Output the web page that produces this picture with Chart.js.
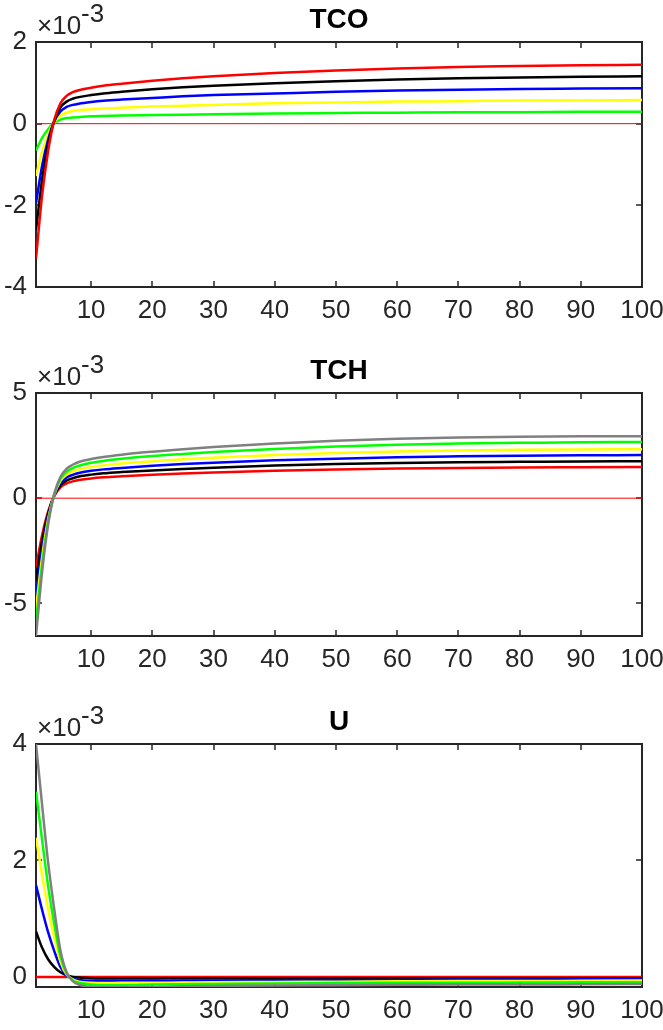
<!DOCTYPE html>
<html>
<head>
<meta charset="utf-8">
<script src="https://cdn.jsdelivr.net/npm/chart.js@4/dist/chart.umd.min.js"></script>
<style>
  body { margin: 0; background: #fff; width: 663px; height: 1030px; overflow: hidden; position: relative; }
  canvas { position: absolute; left: 0; }
</style>
</head>
<body>
<canvas id="c1" width="663" height="340" style="top:0px"></canvas>
<canvas id="c2" width="663" height="340" style="top:351px"></canvas>
<canvas id="c3" width="663" height="328" style="top:702px"></canvas>
<script>
// horizon (quarters) and axis ticks; all values in units of 1e-3
const steps = [1, 2, 3, 4, 5, 6, 7, 8, 10, 12, 15, 20, 25, 30, 40, 50, 60, 70, 80, 90, 100];
const xTicks = [10, 20, 30, 40, 50, 60, 70, 80, 90, 100];
const zeroX = [1, 100];
const zeroY = [0, 0];

// TCO
const tcoRed    = [-3.3, -1.75, -0.65, 0.1, 0.5, 0.68, 0.77, 0.82, 0.88, 0.93, 0.98, 1.05, 1.11, 1.16, 1.24, 1.3, 1.35, 1.39, 1.41, 1.43, 1.44];
const tcoBlack  = [-2.6, -1.38, -0.5, 0.08, 0.4, 0.54, 0.61, 0.65, 0.7, 0.74, 0.78, 0.84, 0.89, 0.93, 0.99, 1.04, 1.08, 1.11, 1.13, 1.15, 1.16];
const tcoBlue   = [-1.95, -1.03, -0.38, 0.06, 0.3, 0.41, 0.46, 0.49, 0.53, 0.56, 0.59, 0.63, 0.67, 0.7, 0.74, 0.78, 0.81, 0.83, 0.85, 0.86, 0.87];
const tcoYellow = [-1.28, -0.68, -0.25, 0.04, 0.2, 0.27, 0.31, 0.33, 0.35, 0.37, 0.39, 0.42, 0.44, 0.46, 0.5, 0.52, 0.54, 0.55, 0.57, 0.57, 0.58];
const tcoGreen  = [-0.66, -0.35, -0.13, 0.02, 0.1, 0.14, 0.15, 0.16, 0.18, 0.19, 0.2, 0.21, 0.22, 0.23, 0.25, 0.26, 0.27, 0.28, 0.28, 0.29, 0.29];
const tcoTicks = [-4, -2, 0, 2];

// TCH
const tchRed    = [-3.3, -1.75, -0.62, 0.12, 0.52, 0.7, 0.8, 0.86, 0.94, 0.99, 1.04, 1.11, 1.17, 1.22, 1.3, 1.36, 1.41, 1.44, 1.46, 1.47, 1.48];
const tchBlack  = [-3.9, -2.05, -0.72, 0.14, 0.62, 0.84, 0.95, 1.03, 1.12, 1.18, 1.24, 1.32, 1.39, 1.45, 1.55, 1.62, 1.67, 1.71, 1.73, 1.75, 1.76];
const tchBlue   = [-4.6, -2.45, -0.86, 0.16, 0.72, 0.98, 1.11, 1.2, 1.3, 1.37, 1.44, 1.54, 1.62, 1.69, 1.8, 1.88, 1.95, 1.99, 2.02, 2.04, 2.05];
const tchYellow = [-5.25, -2.8, -0.98, 0.18, 0.82, 1.12, 1.27, 1.37, 1.48, 1.56, 1.65, 1.76, 1.85, 1.92, 2.05, 2.15, 2.22, 2.27, 2.3, 2.32, 2.33];
const tchGreen  = [-5.9, -3.15, -1.1, 0.2, 0.92, 1.26, 1.43, 1.54, 1.68, 1.77, 1.87, 2.0, 2.1, 2.19, 2.34, 2.46, 2.54, 2.6, 2.63, 2.66, 2.67];
const tchGray   = [-6.55, -3.5, -1.22, 0.22, 1.02, 1.4, 1.59, 1.72, 1.86, 1.96, 2.07, 2.21, 2.33, 2.43, 2.6, 2.73, 2.82, 2.88, 2.92, 2.94, 2.95];
const tchTicks = [-5, 0, 5];

// U
const uRed    = [0, 0, 0, 0, 0, 0, 0, 0, 0, 0, 0, 0, 0, 0, 0, 0, 0, 0, 0, 0, 0];
const uBlack  = [0.78, 0.5, 0.3, 0.17, 0.08, 0.03, 0.0, -0.01, -0.02, -0.025, -0.025, -0.025, -0.02, -0.02, -0.02, -0.02, -0.02, -0.02, -0.02, -0.02, -0.02];
const uBlue   = [1.58, 1.15, 0.76, 0.44, 0.17, 0.03, -0.03, -0.05, -0.065, -0.07, -0.07, -0.065, -0.06, -0.06, -0.055, -0.05, -0.05, -0.045, -0.045, -0.04, -0.04];
const uYellow = [2.39, 1.75, 1.15, 0.67, 0.26, 0.04, -0.04, -0.08, -0.1, -0.105, -0.1, -0.1, -0.095, -0.09, -0.085, -0.08, -0.075, -0.07, -0.07, -0.065, -0.06];
const uGreen  = [3.18, 2.35, 1.55, 0.9, 0.35, 0.06, -0.06, -0.1, -0.13, -0.14, -0.14, -0.13, -0.125, -0.12, -0.11, -0.105, -0.1, -0.1, -0.095, -0.09, -0.09];
const uGray   = [4.0, 2.95, 1.95, 1.15, 0.45, 0.08, -0.07, -0.13, -0.17, -0.18, -0.18, -0.17, -0.16, -0.155, -0.145, -0.14, -0.135, -0.13, -0.13, -0.125, -0.12];
const uTicks = [0, 2, 4];

const FONT = "'Liberation Sans Narrow', 'Arial Narrow', 'Liberation Sans', sans-serif";
const AXIS = "#262626";

function pts(ys) { return ys.map((y, i) => ({ x: steps[i], y })); }

function line(ys, color) {
  return { data: pts(ys), borderColor: color, borderWidth: 2.5, pointRadius: 0,
           cubicInterpolationMode: "monotone", fill: false };
}

// box with inward ticks, title and exponent, MATLAB style
const framePlugin = {
  id: "frame",
  beforeDatasetsDraw(chart) {
    const { ctx, chartArea: a, scales } = chart;
    ctx.save();
    ctx.strokeStyle = AXIS;
    ctx.lineWidth = 1.5;
    const tl = 6;
    ctx.beginPath();
    scales.x.ticks.forEach(t => {
      const px = Math.round(scales.x.getPixelForValue(t.value));
      ctx.moveTo(px, a.top); ctx.lineTo(px, a.top + tl);
      ctx.moveTo(px, a.bottom); ctx.lineTo(px, a.bottom - tl);
    });
    scales.y.ticks.forEach(t => {
      const py = Math.round(scales.y.getPixelForValue(t.value));
      ctx.moveTo(a.left, py); ctx.lineTo(a.left + tl, py);
      ctx.moveTo(a.right, py); ctx.lineTo(a.right - tl, py);
    });
    ctx.stroke();
    ctx.lineWidth = 2;
    ctx.strokeRect(a.left, a.top, a.right - a.left, a.bottom - a.top);
    ctx.restore();
  },
  afterDraw(chart) {
    const { ctx, chartArea: a } = chart;
    const o = chart.options.plugins.frame;
    ctx.save();
    ctx.fillStyle = "#000";
    ctx.textAlign = "center";
    ctx.textBaseline = "alphabetic";
    ctx.font = "bold 28px " + FONT;
    ctx.fillText(o.title, (a.left + a.right) / 2, a.top - 14);
    ctx.fillStyle = AXIS;
    ctx.textAlign = "left";
    ctx.font = "26px " + FONT;
    ctx.fillText("\u00d710", a.left + 1, a.top - 8);
    const w = ctx.measureText("\u00d710").width;
    ctx.fillText("-3", a.left + 1 + w, a.top - 20);
    ctx.restore();
  }
};

function makePanel(id, title, datasets, yMin, yMax, yTicks, axisH) {
  new Chart(document.getElementById(id), {
    type: "line",
    data: { datasets },
    options: {
      responsive: false,
      animation: false,
      layout: { padding: { top: 42, right: 21, left: 0, bottom: 0 } },
      plugins: { legend: { display: false }, tooltip: { enabled: false }, frame: { title } },
      scales: {
        x: {
          type: "linear", min: 1, max: 100,
          grid: { display: false, drawTicks: false }, border: { display: false },
          ticks: { color: AXIS, font: { family: FONT, size: 26 }, padding: 8, maxRotation: 0 },
          afterBuildTicks: s => { s.ticks = xTicks.map(v => ({ value: v })); },
          afterFit: s => { s.height = axisH; s.paddingLeft = 0; s.paddingRight = 0; }
        },
        y: {
          min: yMin, max: yMax,
          grid: { display: false, drawTicks: false }, border: { display: false },
          ticks: { color: AXIS, font: { family: FONT, size: 26 }, padding: 9 },
          afterBuildTicks: s => { s.ticks = yTicks.map(v => ({ value: v })); },
          afterFit: s => { s.width = 36; s.paddingTop = 0; s.paddingBottom = 0; }
        }
      }
    },
    plugins: [framePlugin]
  });
}

const zeroSet = { data: zeroX.map((x, i) => ({ x, y: zeroY[i] })), borderColor: "#ff0000",
                  borderWidth: 1, pointRadius: 0, fill: false };

makePanel("c1", "TCO", [
  line(tcoRed, "#ff0000"), line(tcoBlack, "#000000"), line(tcoBlue, "#0000ff"),
  line(tcoYellow, "#ffff00"), line(tcoGreen, "#00ff00"), zeroSet
], -4, 2, tcoTicks, 53);

makePanel("c2", "TCH", [
  line(tchGray, "#808080"), line(tchGreen, "#00ff00"), line(tchYellow, "#ffff00"),
  line(tchBlue, "#0000ff"), line(tchBlack, "#000000"), line(tchRed, "#ff0000"), zeroSet
], -6.55, 5, tchTicks, 55);

makePanel("c3", "U", [
  line(uGray, "#808080"), line(uGreen, "#00ff00"), line(uYellow, "#ffff00"),
  line(uBlue, "#0000ff"), line(uBlack, "#000000"), line(uRed, "#ff0000"), zeroSet
], -0.172, 4, uTicks, 43);
</script>
</body>
</html>
